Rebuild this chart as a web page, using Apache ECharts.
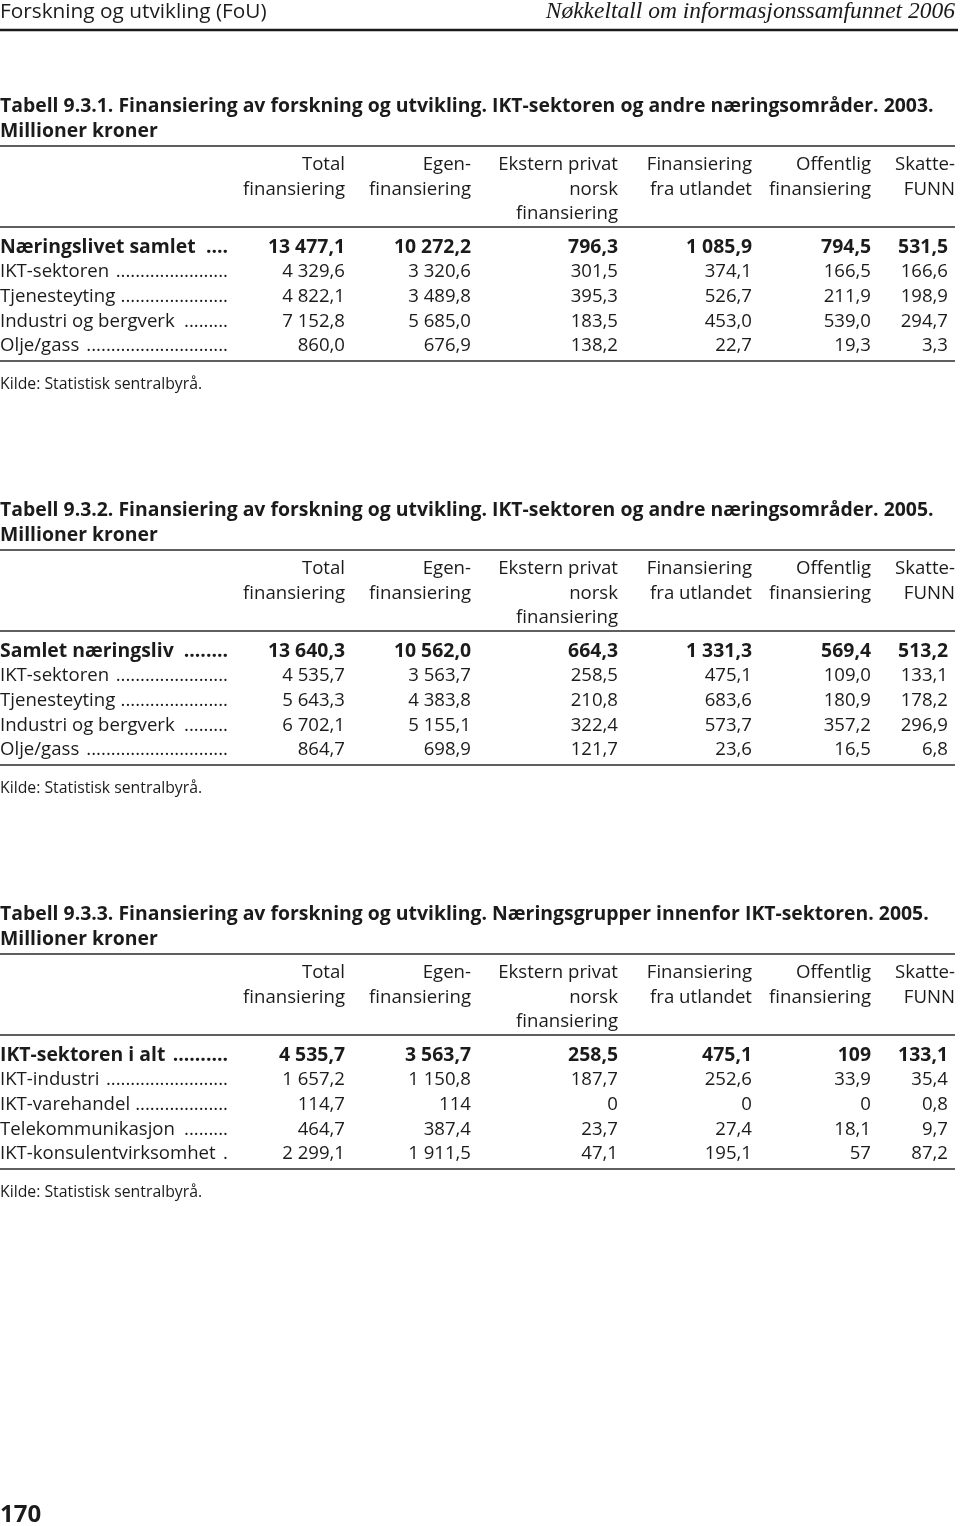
<!DOCTYPE html>
<html>
<head>
<meta charset="utf-8">
<script src="https://cdn.jsdelivr.net/npm/echarts@6/dist/echarts.min.js"></script>
<style>
  html, body { margin: 0; padding: 0; background: #fff; }
  #page { width: 960px; height: 1526px; }
</style>
</head>
<body>
<div id="page"></div>
<script>
// kolonneoverskrifter (samme i alle tre tabeller)
const colHeaders = [
  ['Total', 'finansiering'],
  ['Egen-', 'finansiering'],
  ['Ekstern privat', 'norsk', 'finansiering'],
  ['Finansiering', 'fra utlandet'],
  ['Offentlig', 'finansiering'],
  ['Skatte-', 'FUNN']
]
const source = 'Kilde: Statistisk sentralbyrå.'

// Tabell 9.3.1 (2003)
const t1Title = ['Tabell 9.3.1. Finansiering av forskning og utvikling. IKT-sektoren og andre næringsområder. 2003.', 'Millioner kroner']
const t1Rows = ['Næringslivet samlet', 'IKT-sektoren', 'Tjenesteyting', 'Industri og bergverk', 'Olje/gass']
const t1Values = [
  ['13 477,1', '10 272,2', '796,3', '1 085,9', '794,5', '531,5'],
  ['4 329,6', '3 320,6', '301,5', '374,1', '166,5', '166,6'],
  ['4 822,1', '3 489,8', '395,3', '526,7', '211,9', '198,9'],
  ['7 152,8', '5 685,0', '183,5', '453,0', '539,0', '294,7'],
  ['860,0', '676,9', '138,2', '22,7', '19,3', '3,3']
]

// Tabell 9.3.2 (2005)
const t2Title = ['Tabell 9.3.2. Finansiering av forskning og utvikling. IKT-sektoren og andre næringsområder. 2005.', 'Millioner kroner']
const t2Rows = ['Samlet næringsliv', 'IKT-sektoren', 'Tjenesteyting', 'Industri og bergverk', 'Olje/gass']
const t2Values = [
  ['13 640,3', '10 562,0', '664,3', '1 331,3', '569,4', '513,2'],
  ['4 535,7', '3 563,7', '258,5', '475,1', '109,0', '133,1'],
  ['5 643,3', '4 383,8', '210,8', '683,6', '180,9', '178,2'],
  ['6 702,1', '5 155,1', '322,4', '573,7', '357,2', '296,9'],
  ['864,7', '698,9', '121,7', '23,6', '16,5', '6,8']
]

// Tabell 9.3.3 (2005, IKT-sektoren)
const t3Title = ['Tabell 9.3.3. Finansiering av forskning og utvikling. Næringsgrupper innenfor IKT-sektoren. 2005.', 'Millioner kroner']
const t3Rows = ['IKT-sektoren i alt', 'IKT-industri', 'IKT-varehandel', 'Telekommunikasjon', 'IKT-konsulentvirksomhet']
const t3Values = [
  ['4 535,7', '3 563,7', '258,5', '475,1', '109', '133,1'],
  ['1 657,2', '1 150,8', '187,7', '252,6', '33,9', '35,4'],
  ['114,7', '114', '0', '0', '0', '0,8'],
  ['464,7', '387,4', '23,7', '27,4', '18,1', '9,7'],
  ['2 299,1', '1 911,5', '47,1', '195,1', '57', '87,2']
]

const FONT = '"Open Sans", "Noto Sans", sans-serif'
const INK = '#1b1b1b'
const REG = 18.6   // vanlig tekst
const BLD = 19.4   // fet tekst
const colRight = [345, 471, 618, 752, 871, 955]
const dataRight = [345, 471, 618, 752, 871, 948]
const leaderEnd = 228

const ctx = document.createElement('canvas').getContext('2d')
const measure = (t, font) => { ctx.font = font; return ctx.measureText(t).width }
const fontOf = (size, o = {}) => `${o.italic ? 'italic ' : ''}${o.bold ? 'bold ' : ''}${size}px ${o.family || FONT}`

const txt = (text, x, y, size, opts = {}) => ({
  type: 'text',
  silent: true,
  style: {
    text, x, y: y + 2,
    font: fontOf(size, opts),
    fill: INK,
    align: opts.align || 'left',
    verticalAlign: 'middle'
  }
})
const rule = (y, w) => ({
  type: 'line', silent: true,
  shape: { x1: 0, y1: y, x2: 955, y2: y },
  style: { stroke: '#2a2a2a', lineWidth: w }
})

function table(top, title, rows, values) {
  const els = []
  els.push(txt(title[0], 0, top, BLD, { bold: true }))
  els.push(txt(title[1], 0, top + 25, BLD, { bold: true }))
  els.push(rule(top + 42, 1.5))
  colHeaders.forEach((lines, c) => {
    lines.forEach((l, i) => els.push(txt(l, colRight[c], top + 59 + i * 24.5, REG, { align: 'right' })))
  })
  els.push(rule(top + 123, 1.5))
  rows.forEach((name, r) => {
    const y = top + 141 + r * 24.8
    const bold = r === 0
    const size = bold ? BLD : REG
    const font = fontOf(size, { bold })
    const nameW = measure(name + ' ', font)
    const dotW = measure('.', font)
    const n = Math.max(1, Math.floor((leaderEnd - nameW) / dotW))
    els.push(txt(name, 0, y, size, { bold }))
    els.push(txt('.'.repeat(n), leaderEnd, y, size, { bold, align: 'right' }))
    values[r].forEach((v, c) => els.push(txt(v, dataRight[c], y, size, { bold, align: 'right' })))
  })
  els.push(rule(top + 257, 1.5))
  els.push(txt(source, 0, top + 278, 15.8))
  return els
}

const chart = echarts.init(document.getElementById('page'), null, { renderer: 'canvas' })
chart.setOption({
  backgroundColor: '#fff',
  graphic: [
    txt('Forskning og utvikling (FoU)', 0, 10, 20.8),
    txt('Nøkkeltall om informasjonssamfunnet 2006', 955, 10, 23.5, { italic: true, align: 'right', family: '"Liberation Serif", serif' }),
    { type: 'line', silent: true, shape: { x1: 0, y1: 30, x2: 958, y2: 30 }, style: { stroke: '#1b1b1b', lineWidth: 2.5 } },
    ...table(104, t1Title, t1Rows, t1Values),
    ...table(508, t2Title, t2Rows, t2Values),
    ...table(912, t3Title, t3Rows, t3Values),
    txt('170', 0, 1513, 24, { bold: true })
  ]
})
</script>
</body>
</html>
